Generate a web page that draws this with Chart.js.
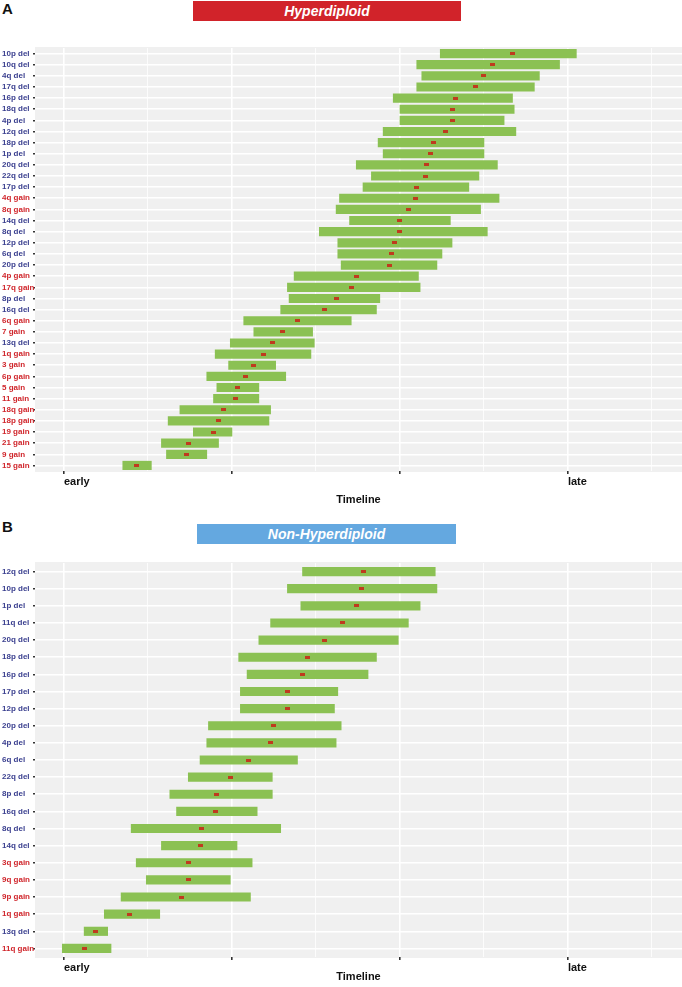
<!DOCTYPE html>
<html>
<head>
<meta charset="utf-8">
<script src="https://cdn.jsdelivr.net/npm/chart.js@4"></script>
<style>
  body { margin: 0; background: #fff; width: 682px; height: 987px; position: relative; overflow: hidden;
         font-family: "Liberation Sans", Arial, sans-serif; }
  .letra { position: absolute; left: 2px; font-weight: bold; font-size: 15px; color: #111; }
  .caixa { position: absolute; color: #fff; font-weight: bold; font-style: italic; font-size: 14px;
           text-align: center; }
  canvas { position: absolute; left: 0; }
</style>
</head>
<body>
<div class="letra" style="top:0px;">A</div>
<div class="caixa" style="left:193px; top:1px; width:268px; height:20px; line-height:20px; background:#D1232A;">Hyperdiploid</div>
<div class="letra" style="top:518px;">B</div>
<div class="caixa" style="left:197px; top:524px; width:259px; height:20px; line-height:20px; background:#64A8E0;">Non-Hyperdiploid</div>

<div id="caixaA" style="position:absolute; left:0; top:40px; width:682px; height:470px;"><canvas id="graficoA"></canvas></div>
<div id="caixaB" style="position:absolute; left:0; top:555px; width:682px; height:432px;"><canvas id="graficoB"></canvas></div>

<script>
// eixo x: early = 0, late = 3
const xTicks = [0, 0.5, 1, 1.5, 2, 2.5, 3, 3.5];
const xLabels = { 0: 'early', 3: 'late' };

// Painel A - Hyperdiploid
const eventosA = ['10p del','10q del','4q del','17q del','16p del','18q del','4p del','12q del','18p del','1p del',
  '20q del','22q del','17p del','4q gain','8q gain','14q del','8q del','12p del','6q del','20p del',
  '4p gain','17q gain','8p del','16q del','6q gain','7 gain','13q del','1q gain','3 gain','6p gain',
  '5 gain','11 gain','18q gain','18p gain','19 gain','21 gain','9 gain','15 gain'];
const inicioA = [2.24,2.10,2.13,2.10,1.96,2.00,2.00,1.90,1.87,1.90,
  1.74,1.83,1.78,1.64,1.62,1.70,1.52,1.63,1.63,1.65,
  1.37,1.33,1.34,1.29,1.07,1.13,0.99,0.90,0.98,0.85,
  0.91,0.89,0.69,0.62,0.77,0.58,0.61,0.35];
const fimA = [3.05,2.95,2.83,2.80,2.67,2.68,2.62,2.69,2.50,2.50,
  2.58,2.47,2.41,2.59,2.48,2.30,2.52,2.31,2.25,2.22,
  2.11,2.12,1.88,1.86,1.71,1.48,1.49,1.47,1.26,1.32,
  1.16,1.16,1.23,1.22,1.00,0.92,0.85,0.52];
const medianaA = [2.67,2.55,2.50,2.45,2.33,2.31,2.31,2.27,2.20,2.18,
  2.16,2.15,2.10,2.09,2.05,2.00,2.00,1.97,1.95,1.94,
  1.74,1.71,1.62,1.55,1.39,1.30,1.24,1.19,1.13,1.08,
  1.03,1.02,0.95,0.92,0.89,0.74,0.73,0.43];

// Painel B - Non-Hyperdiploid
const eventosB = ['12q del','10p del','1p del','11q del','20q del','18p del','16p del','17p del','12p del','20p del',
  '4p del','6q del','22q del','8p del','16q del','8q del','14q del','3q gain','9q gain','9p gain',
  '1q gain','13q del','11q gain'];
const inicioB = [1.42,1.33,1.41,1.23,1.16,1.04,1.09,1.05,1.05,0.86,
  0.85,0.81,0.74,0.63,0.67,0.40,0.58,0.43,0.49,0.34,
  0.24,0.12,-0.01];
const fimB = [2.21,2.22,2.12,2.05,1.99,1.86,1.81,1.63,1.61,1.65,
  1.62,1.39,1.24,1.24,1.15,1.29,1.03,1.12,0.99,1.11,
  0.57,0.26,0.28];
const medianaB = [1.78,1.77,1.74,1.66,1.55,1.45,1.42,1.33,1.33,1.25,
  1.23,1.10,0.99,0.91,0.90,0.82,0.81,0.74,0.74,0.70,
  0.39,0.19,0.12];

const VERDE = '#8BC153';
const CINZA = '#F0F0F0';

// marcador da mediana: retangulo pequeno
const marcador = document.createElement('canvas');
marcador.width = 5; marcador.height = 3;
const mctx = marcador.getContext('2d');
mctx.fillStyle = '#BF3B1E';
mctx.fillRect(0, 0, 5, 3);

const fundoPainel = {
  id: 'fundoPainel',
  beforeDraw(chart) {
    const { ctx, chartArea: a } = chart;
    ctx.save();
    ctx.fillStyle = CINZA;
    ctx.fillRect(a.left, a.top - 1, a.right - a.left, a.bottom - a.top + 2);
    ctx.restore();
  }
};

function criarGrafico(id, eventos, inicio, fim, mediana, padTopo, alturaX) {
  return new Chart(document.getElementById(id).getContext('2d'), {
    type: 'bar',
    data: {
      labels: eventos,
      datasets: [
        { type: 'scatter', data: eventos.map((e, i) => ({ x: mediana[i], y: e })),
          pointStyle: marcador, pointRadius: 3, order: 0 },
        { data: eventos.map((e, i) => [inicio[i], fim[i]]),
          backgroundColor: VERDE, barThickness: 8.5, borderSkipped: false, order: 1 }
      ]
    },
    options: {
      indexAxis: 'y',
      responsive: true,
      maintainAspectRatio: false,
      animation: false,
      layout: { padding: { top: padTopo, left: 2, right: 0, bottom: 0 } },
      plugins: { legend: { display: false }, tooltip: { enabled: false } },
      scales: {
        x: {
          type: 'linear',
          min: -0.1726, max: 3.679,
          afterBuildTicks: (s) => { s.ticks = xTicks.map(v => ({ value: v })); },
          afterFit: (s) => { s.height = alturaX; s.paddingLeft = 0; s.paddingRight = 0; },
          border: { display: false },
          grid: {
            color: '#FFFFFF',
            lineWidth: (c) => (c.tick && Number.isInteger(c.tick.value)) ? 1.6 : 0.8,
            tickColor: (c) => (c.tick && Number.isInteger(c.tick.value)) ? '#333' : 'rgba(0,0,0,0)',
            tickLength: 3
          },
          ticks: {
            align: 'start',
            padding: 1,
            maxRotation: 0,
            autoSkip: false,
            color: '#111',
            font: { family: 'Liberation Sans', size: 11, weight: 'bold' },
            callback: (v) => xLabels[v] || ''
          },
          title: {
            display: true, text: 'Timeline', color: '#111',
            font: { family: 'Liberation Sans', size: 11, weight: 'bold' },
            padding: { top: 0, bottom: 3 }
          }
        },
        y: {
          type: 'category',
          afterFit: (s) => { s.width = 33; },
          border: { display: false },
          grid: { offset: false, color: '#FFFFFF', lineWidth: 1.6, tickColor: '#333', tickLength: 2 },
          ticks: {
            crossAlign: 'far',
            padding: 1,
            autoSkip: false,
            font: { family: 'Liberation Sans', size: 8, weight: 'bold' },
            color: (c) => (eventos[c.index] || '').includes('gain') ? '#D0262C' : '#3A3F8F'
          }
        }
      }
    },
    plugins: [fundoPainel]
  });
}

const gA = criarGrafico('graficoA', eventosA, inicioA, fimA, medianaA, 8, 39);
const gB = criarGrafico('graficoB', eventosB, inicioB, fimB, medianaB, 8, 30);

// alarga a caixa para que a area do grafico termine na borda direita (682px)
[[gA, 'caixaA'], [gB, 'caixaB']].forEach(([g, caixa]) => {
  const falta = 682 - g.chartArea.right;
  if (falta > 0.5) {
    document.getElementById(caixa).style.width = (682 + falta) + 'px';
    g.resize();
  }
});
</script>
</body>
</html>
